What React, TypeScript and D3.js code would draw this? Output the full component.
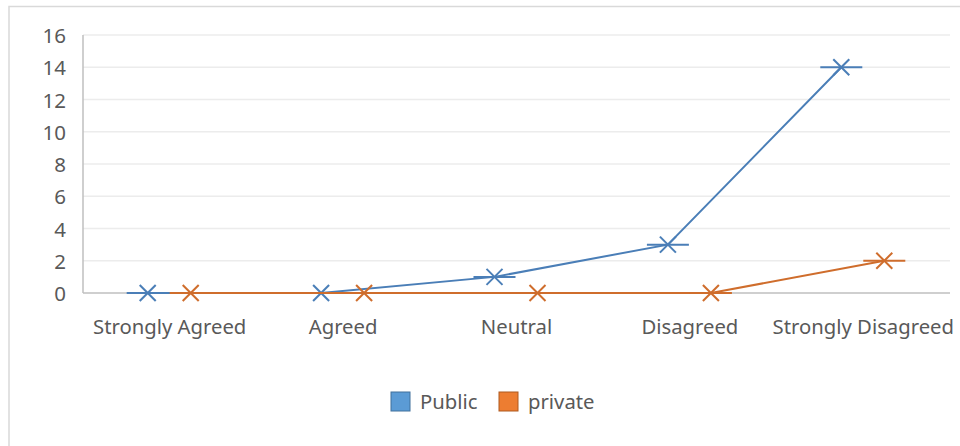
import React from "react";
import * as d3 from "d3";

const categories = ["Strongly Agreed", "Agreed", "Neutral", "Disagreed", "Strongly Disagreed"];
const publicValues = [0, 0, 1, 3, 14];
const privateValues = [0, 0, 0, 0, 2];
const yTicks = [0, 2, 4, 6, 8, 10, 12, 14, 16];
const seriesNames = ["Public", "private"];

const W = 960;
const H = 446;
const margin = { left: 83, right: 10, top: 35, bottom: 153 };
const FONT = "'Noto Sans', 'Open Sans', sans-serif";
const textColor = "#595959";

const series = [
  { name: seriesNames[0], values: publicValues, line: "#4a7eb7", fill: "#5b9bd5", edge: "#41719c" },
  { name: seriesNames[1], values: privateValues, line: "#cf6d2c", fill: "#ed7d31", edge: "#ae5a21" },
];

function Marker({ x, y, color }: { x: number; y: number; color: string }) {
  const a = 8;
  const d = 21;
  return (
    <g stroke={color} strokeWidth={2} fill="none">
      <line x1={x - a} y1={y - a} x2={x + a} y2={y + a} />
      <line x1={x - a} y1={y + a} x2={x + a} y2={y - a} />
      <line x1={x - d} y1={y} x2={x + d} y2={y} />
    </g>
  );
}

export default function App() {
  const x0 = margin.left;
  const x1 = 950;
  const y0 = H - margin.bottom;
  const yTop = margin.top;

  const xBand = d3.scaleBand<string>().domain(categories).range([x0, x1]);
  const offset = d3.scalePoint<string>().domain(seriesNames).range([-22, 21]);
  const y = d3.scaleLinear().domain([0, 16]).range([y0, yTop]);

  const cx = (c: string) => (xBand(c) ?? 0) + xBand.bandwidth() / 2;

  return (
    <svg
      width={W}
      height={H}
      style={{ position: "fixed", left: 0, top: 0, background: "#fff" }}
      fontFamily={FONT}
    >
      <rect x={9} y={6.5} width={W} height={H} fill="#fff" stroke="#d9d9d9" strokeWidth={1.5} />

      {yTicks.map((t) => (
        <g key={t}>
          {t > 0 && (
            <line x1={x0} x2={x1} y1={y(t)} y2={y(t)} stroke="#ececec" strokeWidth={1.5} />
          )}
          <text
            x={66}
            y={y(t)}
            textAnchor="end"
            dominantBaseline="central"
            fontSize={20.5}
            fill={textColor}
          >
            {t}
          </text>
        </g>
      ))}

      <line x1={x0} x2={x0} y1={yTop} y2={y0} stroke="#bfbfbf" strokeWidth={1.5} />
      <line x1={x0} x2={x1} y1={y0} y2={y0} stroke="#bfbfbf" strokeWidth={1.5} />

      {categories.map((c) => (
        <text
          key={c}
          x={cx(c)}
          y={326}
          textAnchor="middle"
          dominantBaseline="central"
          fontSize={20.3}
          fill={textColor}
        >
          {c}
        </text>
      ))}

      {series.map((s) => {
        const pts: [number, number][] = categories.map((c, i) => [
          cx(c) + (offset(s.name) ?? 0),
          y(s.values[i]),
        ]);
        const path = d3.line()(pts) ?? "";
        return (
          <g key={s.name}>
            <path d={path} fill="none" stroke={s.line} strokeWidth={2} />
            {pts.map(([px, py], i) => (
              <Marker key={i} x={px} y={py} color={s.line} />
            ))}
          </g>
        );
      })}

      {series.map((s, i) => {
        const lx = i === 0 ? 391 : 499;
        return (
          <g key={s.name}>
            <rect x={lx} y={392} width={19} height={19} fill={s.fill} stroke={s.edge} strokeWidth={1} />
            <text
              x={lx + 29}
              y={401}
              dominantBaseline="central"
              fontSize={20.3}
              fill={textColor}
            >
              {s.name}
            </text>
          </g>
        );
      })}
    </svg>
  );
}
